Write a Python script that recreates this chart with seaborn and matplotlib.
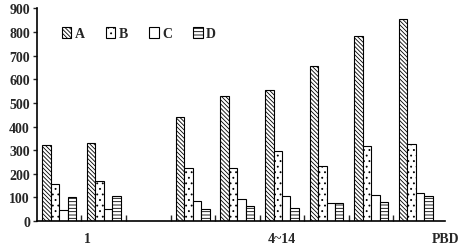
import matplotlib
matplotlib.use("Agg")
import matplotlib.pyplot as plt
import seaborn as sns
import pandas as pd
from matplotlib.patches import Patch

groups = ["g1", "g2", "g3", "g4", "g5", "g6", "g7", "g8", "g9"]
series = ["A", "B", "C", "D"]
A = [322, 330, 0, 440, 528, 555, 655, 782, 853]
B = [157, 170, 0, 225, 225, 296, 232, 318, 325]
C = [48, 52, 0, 86, 94, 106, 77, 111, 119]
D = [101, 108, 0, 52, 63, 56, 76, 83, 106]
xlabels = ["1", "4~14", "PBD"]
xlabel_pos = [0.63, 4.99, 8.66]
yticks = [0, 100, 200, 300, 400, 500, 600, 700, 800, 900]

hatches = {"A": "\\" * 8, "B": "." * 3, "C": "", "D": "-" * 5}

rows = []
for s, vals in zip(series, [A, B, C, D]):
    for g, v in zip(groups, vals):
        rows.append({"group": g, "series": s, "value": v})
df = pd.DataFrame(rows)

sns.set_style("white")
plt.rcParams["font.family"] = ["Liberation Serif", "DejaVu Serif"]
plt.rcParams["font.weight"] = "bold"
plt.rcParams["hatch.linewidth"] = 0.6

fig = plt.figure(figsize=(4.73, 2.53), dpi=100)
ax = fig.add_axes([0.078, 0.122, 0.863, 0.841])

sns.barplot(data=df, x="group", y="value", hue="series", order=groups,
            hue_order=series, palette=["white"] * 4, edgecolor="black",
            linewidth=0.8, width=0.76, gap=0, legend=False, ax=ax)

for container, s in zip(ax.containers, series):
    for bar in container:
        bar.set_hatch(hatches[s])
        bar.set_facecolor("white")
        bar.set_edgecolor("black")

ax.set_xlim(-0.5, len(groups) - 0.5)
ax.set_ylim(0, 900)
ax.set_yticks(yticks)
ax.set_yticklabels([str(v) for v in yticks], fontsize=10, fontweight="bold")
ax.tick_params(axis="y", direction="out", length=3, width=1, left=True, pad=2)

ax.set_xticks(xlabel_pos)
ax.set_xticklabels(xlabels, fontsize=10, fontweight="bold")
ax.tick_params(axis="x", which="major", length=0, pad=8)
ax.set_xticks([i + 0.5 for i in range(len(groups) - 1)], minor=True)
ax.tick_params(axis="x", which="minor", direction="in", length=4, width=1, bottom=True)

ax.set_xlabel("")
ax.set_ylabel("")
for side in ["top", "right"]:
    ax.spines[side].set_visible(False)
for side in ["left", "bottom"]:
    ax.spines[side].set_linewidth(1.2)
    ax.spines[side].set_color("black")

handles = [Patch(facecolor="white", edgecolor="black", hatch=hatches[s], linewidth=0.8, label=s)
           for s in series]
ax.legend(handles=handles, ncol=4, frameon=False, loc="upper left",
          bbox_to_anchor=(0.03, 0.97), handlelength=0.7, handleheight=0.8,
          handletextpad=0.25, columnspacing=1.5,
          prop={"family": "Liberation Serif", "weight": "bold", "size": 10})

fig.savefig("out.png", dpi=100)
